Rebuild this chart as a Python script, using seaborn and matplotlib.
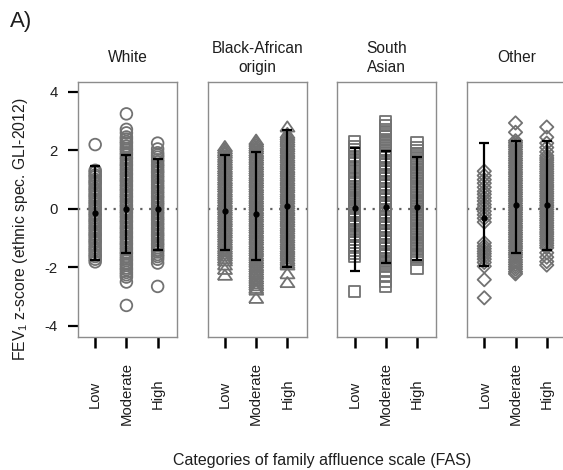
import matplotlib
matplotlib.use("Agg")
import matplotlib.pyplot as plt
import seaborn as sns
import pandas as pd
import numpy as np

# ---------------- data ----------------
groups = ["White", "Black-African\norigin", "South\nAsian", "Other"]
fas_levels = ["Low", "Moderate", "High"]
wide_triangle = [(-1.0, -0.72), (1.0, -0.72), (0.0, 0.72), (-1.0, -0.72)]
markers = ["o", wide_triangle, "s", "D"]
marker_sizes = [8.4, 10.2, 8.0, 6.8]

white_low = [2.2, 1.32, 1.25, 1.16, 1.1, 1.01, 0.93, 0.88, 0.79, 0.7, 0.64, 0.55, 0.47, 0.41, 0.32, 0.24, 0.17, 0.08,
             0.01, -0.07, -0.16, -0.22, -0.31, -0.39, -0.45, -0.54, -0.62, -0.69, -0.78, -0.86, -0.92, -1.01, -1.09,
             -1.15, -1.24, -1.33, -1.4, -1.48, -1.57, -1.63, -1.72, -1.81]
white_mod = [3.25, 2.72, 2.6, 2.46, 2.39, 2.3, 2.24, 2.15, 2.07, 2.01, 1.92, 1.85, 1.76, 1.7, 1.61, 1.53, 1.47, 1.38,
             1.31, 1.22, 1.16, 1.07, 0.99, 0.93, 0.84, 0.77, 0.68, 0.62, 0.53, 0.45, 0.39, 0.3, 0.23, 0.14, 0.08, -0.01,
             -0.09, -0.15, -0.24, -0.31, -0.4, -0.46, -0.55, -0.63, -0.69, -0.78, -0.85, -0.94, -1.0, -1.09, -1.17,
             -1.23, -1.32, -1.39, -1.48, -1.54, -1.63, -1.71, -1.77, -1.86, -1.93, -2.02, -2.08, -2.17, -2.25, -2.33,
             -2.5, -3.3]
white_high = [2.25, 2.05, 1.92, 1.84, 1.77, 1.68, 1.61, 1.52, 1.46, 1.37, 1.29, 1.23, 1.14, 1.07, 0.98, 0.92, 0.83,
              0.75, 0.69, 0.6, 0.53, 0.44, 0.38, 0.29, 0.21, 0.15, 0.06, -0.01, -0.1, -0.16, -0.25, -0.33, -0.39,
              -0.48, -0.55, -0.64, -0.7, -0.79, -0.87, -0.93, -1.02, -1.09, -1.18, -1.24, -1.33, -1.41, -1.47, -1.56,
              -1.63, -1.72, -1.85, -2.65]

black_low = [2.15, 2.07, 1.99, 1.92, 1.83, 1.76, 1.68, 1.6, 1.53, 1.44, 1.37, 1.29, 1.21, 1.14, 1.05, 0.98, 0.9,
             0.82, 0.75, 0.66, 0.59, 0.51, 0.43, 0.36, 0.27, 0.2, 0.12, 0.04, -0.03, -0.12, -0.19, -0.27, -0.35,
             -0.42, -0.51, -0.58, -0.66, -0.74, -0.81, -0.9, -0.97, -1.05, -1.13, -1.2, -1.29, -1.36, -1.44, -1.52,
             -1.59, -1.68, -1.76, -1.9, -2.05, -2.25]
black_mod = [2.37, 2.3, 2.22, 2.14, 2.07, 1.98, 1.91, 1.83, 1.75, 1.68, 1.59, 1.52, 1.44, 1.36, 1.29, 1.2, 1.13, 1.05,
             0.97, 0.9, 0.81, 0.74, 0.66, 0.58, 0.51, 0.42, 0.35, 0.27, 0.19, 0.12, 0.03, -0.04, -0.12, -0.2, -0.27,
             -0.36, -0.43, -0.51, -0.59, -0.66, -0.75, -0.82, -0.9, -0.98, -1.05, -1.14, -1.21, -1.29, -1.37, -1.44,
             -1.53, -1.6, -1.68, -1.76, -1.83, -1.92, -1.99, -2.07, -2.15, -2.22, -2.31, -2.38, -2.46, -2.54, -2.61,
             -2.7, -2.76, -3.04]
black_high = [2.82, 2.6, 2.53, 2.45, 2.37, 2.3, 2.21, 2.14, 2.06, 1.98, 1.91, 1.82, 1.75, 1.67, 1.59, 1.52, 1.43,
              1.36, 1.28, 1.2, 1.13, 1.04, 0.97, 0.89, 0.81, 0.74, 0.65, 0.58, 0.5, 0.42, 0.35, 0.26, 0.19, 0.11, 0.03,
              -0.04, -0.13, -0.2, -0.28, -0.36, -0.43, -0.52, -0.59, -0.67, -0.75, -0.82, -0.91, -0.98, -1.06, -1.14,
              -1.21, -1.3, -1.37, -1.45, -1.53, -1.6, -1.69, -1.76, -1.84, -1.9, -2.2, -2.5]

sa_low = [2.31, 2.12, 2.03, 1.92, 1.8, 1.7, 1.58, 1.46, 1.38, 1.27, 1.15, 1.04, 0.95, 0.86, 0.78, 0.7, 0.62, 0.55,
          0.47, 0.39, 0.31, 0.24, 0.16, 0.08, 0.0, -0.07, -0.15, -0.23, -0.31, -0.38, -0.46, -0.54, -0.61, -0.69,
          -0.77, -0.86, -0.95, -1.06, -1.14, -1.25, -1.33, -1.42, -1.52, -1.62, -2.82]
sa_mod = [3.0, 2.84, 2.71, 2.64, 2.55, 2.48, 2.38, 2.31, 2.22, 2.15, 2.05, 1.99, 1.9, 1.81, 1.75, 1.66, 1.57, 1.51,
          1.42, 1.33, 1.27, 1.18, 1.09, 1.03, 0.94, 0.85, 0.79, 0.7, 0.61, 0.55, 0.46, 0.37, 0.31, 0.22, 0.13, 0.07,
          -0.02, -0.11, -0.17, -0.26, -0.35, -0.41, -0.5, -0.59, -0.65, -0.74, -0.83, -0.89, -0.98, -1.07, -1.13,
          -1.22, -1.31, -1.37, -1.46, -1.55, -1.61, -1.7, -1.79, -1.86, -1.96, -2.13, -2.3, -2.47, -2.65]
sa_high = [2.27, 2.1, 1.98, 1.9, 1.83, 1.74, 1.67, 1.58, 1.51, 1.42, 1.35, 1.26, 1.19, 1.1, 1.03, 0.94, 0.87, 0.78,
           0.71, 0.62, 0.55, 0.46, 0.39, 0.3, 0.23, 0.14, 0.07, -0.02, -0.09, -0.18, -0.25, -0.34, -0.41, -0.5, -0.57,
           -0.66, -0.73, -0.82, -0.89, -0.98, -1.05, -1.14, -1.21, -1.3, -1.37, -1.46, -1.55, -1.62, -1.73, -2.03]

other_low = [1.29, 1.14, 1.0, 0.88, 0.74, 0.6, 0.5, 0.38, 0.27, 0.15, 0.05, -0.08, -0.2, -0.32, -0.45, -1.16, -1.27,
             -1.36, -1.45, -1.53, -1.62, -1.72, -1.83, -1.96, -2.42, -3.04]
other_mod = [2.94, 2.62, 2.33, 2.26, 2.18, 2.11, 2.03, 1.95, 1.88, 1.8, 1.72, 1.65, 1.57, 1.49, 1.42, 1.34, 1.26, 1.19,
             1.11, 1.03, 0.96, 0.88, 0.8, 0.73, 0.65, 0.57, 0.5, 0.42, 0.34, 0.27, 0.19, 0.11, 0.04, -0.04, -0.12,
             -0.19, -0.27, -0.35, -0.42, -0.5, -0.58, -0.65, -0.73, -0.81, -0.88, -0.96, -1.04, -1.11, -1.19, -1.27,
             -1.34, -1.42, -1.5, -1.57, -1.65, -1.74, -1.82, -1.9, -1.98, -2.06, -2.15, -2.22]
other_high = [2.8, 2.45, 2.25, 2.1, 1.95, 1.82, 1.74, 1.67, 1.59, 1.51, 1.44, 1.36, 1.28, 1.21, 1.13, 1.05, 0.98, 0.9,
              0.82, 0.75, 0.67, 0.59, 0.52, 0.44, 0.36, 0.29, 0.21, 0.13, 0.06, -0.02, -0.1, -0.17, -0.25, -0.33,
              -0.4, -0.48, -0.56, -0.63, -0.71, -0.79, -0.86, -0.94, -1.02, -1.09, -1.17, -1.25, -1.33, -1.5, -1.65,
              -1.8, -1.92]

series = [
    [white_low, white_mod, white_high],
    [black_low, black_mod, black_high],
    [sa_low, sa_mod, sa_high],
    [other_low, other_mod, other_high],
]

# mean and SD limits
means = [[-0.15, 0.0, 0.0], [-0.08, -0.16, 0.11], [0.04, 0.06, 0.05], [-0.3, 0.15, 0.15]]
upper = [[1.48, 1.86, 1.71], [1.86, 1.94, 2.71], [2.1, 1.98, 1.77], [2.25, 2.31, 2.33]]
lower = [[-1.73, -1.5, -1.41], [-1.39, -1.73, -1.98], [-2.13, -1.85, -1.73], [-1.95, -1.5, -1.39]]

yticks = [-4, -2, 0, 2, 4]

# ---------------- plotting ----------------
sns.set_style("white")
plt.rcParams["font.family"] = ["Liberation Sans", "DejaVu Sans"]
plt.rcParams["mathtext.fontset"] = "custom"
plt.rcParams["mathtext.rm"] = "Liberation Sans"
plt.rcParams["mathtext.it"] = "Liberation Sans"

W, H = 563, 470
fig = plt.figure(figsize=(W / 100, H / 100), dpi=100)

pt_gray = "#727272"
frame_gray = "#8c8c8c"
txt = "#1e1e1e"

panel_w = 99
top_px, bot_px = 82, 337
for i, g in enumerate(groups):
    left_px = 78 + i * 129.7
    ax = fig.add_axes([left_px / W, 1 - bot_px / H, panel_w / W, (bot_px - top_px) / H])
    rows = []
    for lev, vals in zip(fas_levels, series[i]):
        for v in vals:
            rows.append({"fas": lev, "z": v})
    df = pd.DataFrame(rows)
    sns.stripplot(data=df, x="fas", y="z", order=fas_levels, ax=ax, jitter=False,
                  marker=markers[i], size=marker_sizes[i], color=pt_gray, linewidth=1.3,
                  zorder=2)
    for c in ax.collections:
        c.set_facecolor("none")
        c.set_edgecolor(pt_gray)
        c.set_linewidth(1.3)

    m = np.array(means[i])
    up = np.array(upper[i])
    lo = np.array(lower[i])
    ax.errorbar([0, 1, 2], m, yerr=[m - lo, up - m], fmt="o", color="black", ms=3.5,
                lw=1.6, capsize=3.8, capthick=1.6, zorder=4)
    ax.axhline(0, color="#606060", lw=1.6, ls=(0, (1, 3)), zorder=1)

    ax.set_xlim(-0.55, 2.62)
    ax.set_ylim(-4.38, 4.34)
    ax.set_xlabel("")
    ax.set_ylabel("")
    for s in ax.spines.values():
        s.set_visible(True)
        s.set_color(frame_gray)
        s.set_linewidth(1.0)
    ax.set_xticks([0, 1, 2])
    ax.set_xticklabels(fas_levels, rotation=90, va="center", fontsize=10.7, color=txt)
    ax.tick_params(axis="x", direction="out", length=8, width=1.8, color="black", pad=33, bottom=True)
    if i == 0:
        ax.set_yticks(yticks)
        ax.set_yticklabels([str(t) for t in yticks], fontsize=10.7, color=txt)
        ax.tick_params(axis="y", direction="out", length=7.5, width=1.6, color="black", pad=7, left=True)
    else:
        ax.set_yticks([])
    ax.grid(False)
    cx = (left_px + panel_w / 2) / W
    fig.text(cx, 1 - 58 / H, g, ha="center", va="center", fontsize=11.2, linespacing=1.35, color=txt)

fig.text(10 / W, 1 - 22 / H, "A)", ha="left", va="center", fontsize=16, color=txt)
fig.text(21 / W, 1 - 229 / H, "FEV$_1$ z-score (ethnic spec. GLI-2012)", rotation=90,
         ha="center", va="center", fontsize=11.3, color=txt)
fig.text(322 / W, 1 - 461 / H, "Categories of family affluence scale (FAS)", ha="center", va="center",
         fontsize=11.5, color=txt)

fig.savefig("out.png", dpi=100)
